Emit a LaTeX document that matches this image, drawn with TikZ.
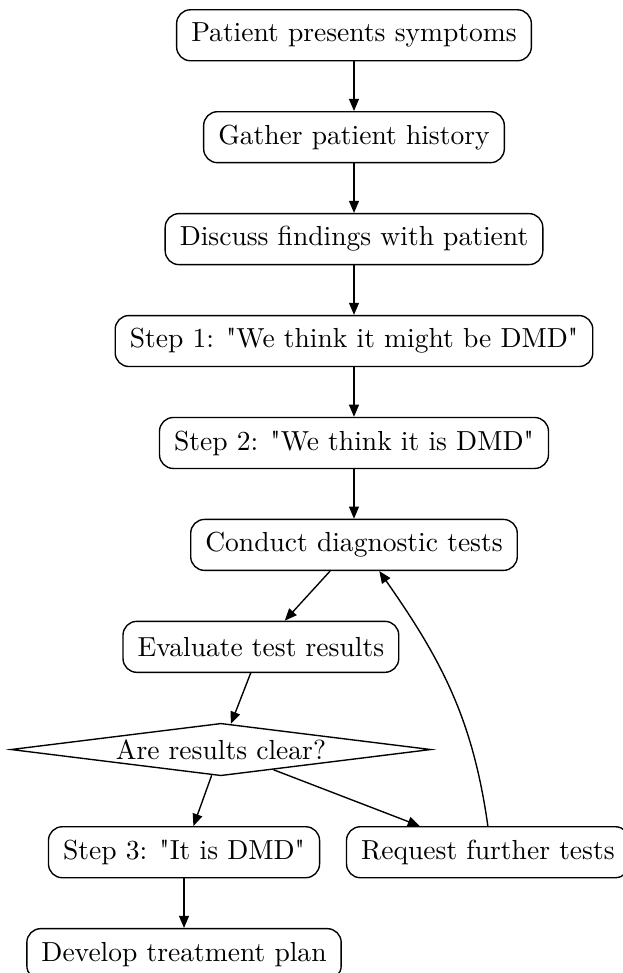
\documentclass[tikz,border=0pt]{standalone}
\usetikzlibrary{
  arrows.meta,
  positioning,
  shapes.geometric,
}
\tikzset{
  >={Triangle[length=4.4pt,width=3.6pt]},
}

\begin{document}
\begin{tikzpicture}[
      node distance=18pt,
      line width=0.5pt,
      box/.style={draw, rounded corners=5pt, minimum height=18.5pt, inner xsep=5.3pt},
      decision/.style={draw, diamond, aspect=8, inner sep=1pt, minimum width=152.5pt, minimum height=17.5pt},
    ]
      \useasboundingbox (-128.5pt,12.8pt) rectangle (97.3pt,-340.4pt);
      \node [box] (symptoms) {Patient presents symptoms};
      \node [box, below=of symptoms] (history) {Gather patient history};
      \node [box, below=of history] (discuss) {Discuss findings with patient};
      \node [box, below=of discuss] (might) {Step 1: \textquotedbl We think it might be DMD\textquotedbl};
      \node [box, below=of might] (think) {Step 2: \textquotedbl We think it is DMD\textquotedbl};
      \node [box, below=of think] (tests) {Conduct diagnostic tests};
      \node [box, below=of tests, xshift=-33.8pt] (evaluate) {Evaluate test results};
      \node [decision, below=of evaluate, xshift=-14.5pt] (clear) {Are results clear?};
      \node [box, below=of clear, xshift=-13.4pt] (isdmd) {Step 3: \textquotedbl It is DMD\textquotedbl};
      \node [box, below=of clear, xshift=96.9pt] (further) {Request further tests};
      \node [box, below=of isdmd] (plan) {Develop treatment plan};
      \path [->] (symptoms) edge (history)
                 (history) edge (discuss)
                 (discuss) edge (might)
                 (might) edge (think)
                 (think) edge (tests)
                 (tests) edge (evaluate)
                 (evaluate) edge (clear)
                 (clear) edge (isdmd)
                 (clear) edge (further)
                 (further.north) edge [out=98, in=-55] (tests.-46)
                 (isdmd) edge (plan);
    \end{tikzpicture}
\end{document}
